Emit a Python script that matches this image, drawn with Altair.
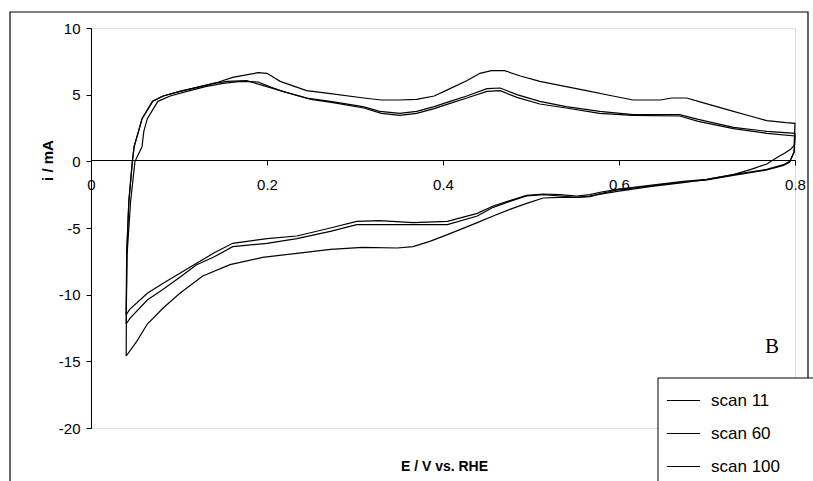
import altair as alt
import pandas as pd

# Cyclic voltammograms: anodic sweep (0.04 -> 0.8 V) followed by cathodic sweep (0.8 -> 0.04 V)
scan_names = ["scan 11", "scan 60", "scan 100"]

# scan 11
s11_anodic_E = [0.040, 0.041, 0.045, 0.050, 0.058, 0.060, 0.064, 0.076, 0.090, 0.109,
                0.130, 0.150, 0.170, 0.190, 0.205, 0.220, 0.250, 0.275, 0.310, 0.330,
                0.351, 0.370, 0.390, 0.408, 0.427, 0.450, 0.465, 0.484, 0.510, 0.540,
                0.578, 0.616, 0.669, 0.690, 0.730, 0.768, 0.800]
s11_anodic_i = [-11.5, -7.0, -3.0, 0.0, 1.1, 2.25, 3.2, 4.5, 4.9, 5.25,
                5.6, 5.85, 6.0, 5.95, 5.55, 5.2, 4.65, 4.4, 4.0, 3.6,
                3.45, 3.6, 3.95, 4.35, 4.75, 5.25, 5.3, 4.8, 4.3, 4.0,
                3.6, 3.45, 3.4, 3.0, 2.45, 2.1, 1.9]
s11_cathodic_E = [0.799, 0.794, 0.787, 0.768, 0.730, 0.700, 0.673, 0.635, 0.598, 0.580,
                  0.567, 0.552, 0.533, 0.514, 0.495, 0.476, 0.457, 0.439, 0.405, 0.366,
                  0.328, 0.302, 0.272, 0.234, 0.200, 0.161, 0.139, 0.120, 0.101, 0.082,
                  0.064, 0.044, 0.040]
s11_cathodic_i = [0.7, 0.0, -0.25, -0.6, -1.0, -1.35, -1.5, -1.8, -2.1, -2.3,
                  -2.5, -2.6, -2.5, -2.45, -2.55, -2.95, -3.35, -3.9, -4.5, -4.6,
                  -4.45, -4.5, -5.0, -5.6, -5.8, -6.15, -6.9, -7.65, -8.4, -9.15,
                  -9.9, -11.1, -11.5]

# scan 60
s60_anodic_E = [0.040, 0.0405, 0.043, 0.047, 0.049, 0.054, 0.058, 0.070, 0.082, 0.101,
                0.124, 0.140, 0.155, 0.177, 0.200, 0.215, 0.245, 0.272, 0.309, 0.328,
                0.351, 0.370, 0.390, 0.408, 0.427, 0.450, 0.465, 0.484, 0.510, 0.540,
                0.578, 0.616, 0.669, 0.690, 0.730, 0.768, 0.800]
s60_anodic_i = [-12.2, -7.0, -3.0, 0.0, 1.1, 2.25, 3.2, 4.5, 4.9, 5.25,
                5.6, 5.85, 6.0, 6.05, 5.6, 5.3, 4.75, 4.5, 4.1, 3.75,
                3.6, 3.75, 4.1, 4.5, 4.9, 5.45, 5.5, 5.0, 4.5, 4.1,
                3.75, 3.5, 3.5, 3.15, 2.55, 2.25, 2.1]
s60_cathodic_E = [0.799, 0.794, 0.787, 0.768, 0.730, 0.700, 0.673, 0.635, 0.598, 0.580,
                  0.567, 0.552, 0.533, 0.514, 0.495, 0.476, 0.457, 0.439, 0.405, 0.366,
                  0.328, 0.302, 0.272, 0.234, 0.200, 0.161, 0.139, 0.120, 0.101, 0.082,
                  0.064, 0.044, 0.040]
s60_cathodic_i = [0.7, -0.05, -0.3, -0.65, -1.05, -1.4, -1.55, -1.85, -2.15, -2.4,
                  -2.65, -2.7, -2.6, -2.5, -2.6, -3.0, -3.45, -4.1, -4.75, -4.75,
                  -4.75, -4.75, -5.25, -5.8, -6.15, -6.4, -7.2, -7.75, -8.7, -9.6,
                  -10.4, -11.8, -12.2]

# scan 100
s100_anodic_E = [0.040, 0.0405, 0.043, 0.047, 0.049, 0.054, 0.058, 0.070, 0.082, 0.101,
                 0.124, 0.145, 0.161, 0.178, 0.190, 0.200, 0.215, 0.245, 0.270, 0.310,
                 0.330, 0.350, 0.370, 0.390, 0.408, 0.427, 0.442, 0.455, 0.470, 0.488,
                 0.510, 0.540, 0.563, 0.593, 0.616, 0.647, 0.660, 0.677, 0.690, 0.711,
                 0.730, 0.749, 0.768, 0.790, 0.800]
s100_anodic_i = [-14.6, -7.0, -3.0, 0.0, 1.1, 2.25, 3.2, 4.5, 4.9, 5.25,
                 5.6, 5.95, 6.3, 6.5, 6.65, 6.6, 6.0, 5.3, 5.1, 4.75,
                 4.6, 4.6, 4.65, 4.9, 5.45, 6.05, 6.6, 6.8, 6.8, 6.4,
                 6.0, 5.6, 5.3, 4.9, 4.6, 4.6, 4.75, 4.75, 4.5, 4.1,
                 3.75, 3.4, 3.05, 2.9, 2.85]
s100_cathodic_E = [0.799, 0.795, 0.788, 0.780, 0.768, 0.750, 0.730, 0.700, 0.673, 0.635,
                   0.598, 0.567, 0.552, 0.533, 0.514, 0.495, 0.476, 0.457, 0.439, 0.405,
                   0.385, 0.366, 0.348, 0.309, 0.272, 0.234, 0.195, 0.158, 0.127, 0.101,
                   0.082, 0.064, 0.052, 0.040]
s100_cathodic_i = [1.2, 0.9, 0.6, 0.3, -0.2, -0.6, -1.0, -1.35, -1.6, -1.9,
                   -2.25, -2.6, -2.7, -2.7, -2.75, -3.15, -3.6, -4.1, -4.6, -5.5,
                   -6.0, -6.4, -6.5, -6.45, -6.6, -6.9, -7.2, -7.75, -8.6, -9.9,
                   -11.0, -12.2, -13.5, -14.6]

x_ticks = [0, 0.2, 0.4, 0.6, 0.8]
y_ticks = [-20, -15, -10, -5, 0, 5, 10]

sweeps = [
    ("scan 11", s11_anodic_E, s11_anodic_i, s11_cathodic_E, s11_cathodic_i),
    ("scan 60", s60_anodic_E, s60_anodic_i, s60_cathodic_E, s60_cathodic_i),
    ("scan 100", s100_anodic_E, s100_anodic_i, s100_cathodic_E, s100_cathodic_i),
]
rows = []
for name, aE, ai, cE, ci in sweeps:
    loop = list(zip(aE, ai)) + list(zip(cE, ci))
    for k, (e, cur) in enumerate(loop):
        rows.append({"scan": name, "step": k, "E": e, "i": cur})
cv = pd.DataFrame(rows)

W, H = 704, 400
FONT = "Liberation Sans"

x_scale = alt.Scale(domain=[0, 0.8], nice=False, zero=False)
y_scale = alt.Scale(domain=[-20, 10], nice=False, zero=False)

x_axis = alt.Axis(
    values=x_ticks, labelExpr="'' + datum.value", offset=-268,
    tickSize=5, labelPadding=12, labelFontSize=15, labelFont=FONT,
    title="E / V vs. RHE", titleX=353, titleY=306, titleAlign="center",
    titleBaseline="middle", titleFontSize=14, titleFontWeight="bold", titleFont=FONT,
    grid=False, domainColor="black", tickColor="black", labelColor="black",
    titleColor="black", labelFlush=False, labelOverlap=False,
)
y_axis = alt.Axis(
    values=y_ticks, labelExpr="'' + datum.value",
    tickSize=5, labelPadding=6, labelFontSize=15, labelFont=FONT,
    title="i / mA", titleX=-44, titleY=132, titleAngle=270, titleAlign="center",
    titleBaseline="middle", titleFontSize=15, titleFontWeight="bold", titleFont=FONT,
    grid=False, domainColor="black", tickColor="black", labelColor="black",
    titleColor="black", labelFlush=False, labelOverlap=False,
)

one = pd.DataFrame({"k": [0]})

# outer chart-area border
frame = alt.Chart(one).mark_rect(fill=None, stroke="black", strokeWidth=1.2).encode(
    x=alt.value(-81), x2=alt.value(717), y=alt.value(-16), y2=alt.value(480)
)

# legend box
legend_box = alt.Chart(one).mark_rect(fill="white", stroke="black", strokeWidth=1).encode(
    x=alt.value(567), x2=alt.value(740), y=alt.value(350), y2=alt.value(480)
)

lines = alt.Chart(cv).mark_line(strokeWidth=1.2).encode(
    x=alt.X("E:Q", scale=x_scale, axis=x_axis),
    y=alt.Y("i:Q", scale=y_scale, axis=y_axis),
    color=alt.Color(
        "scan:N",
        scale=alt.Scale(domain=scan_names, range=["black", "black", "black"]),
        legend=alt.Legend(
            title=None, orient="none", legendX=567, legendY=347,
            symbolType="stroke", symbolSize=1100, symbolStrokeWidth=1.2,
            labelFont=FONT, labelFontSize=17, labelColor="black",
            labelOffset=10, rowPadding=7, padding=8,
        ),
    ),
    order="step:Q",
    detail="scan:N",
)

panel_label = pd.DataFrame({"E": [0.774], "i": [-13.9], "t": ["B"]})
label_b = alt.Chart(panel_label).mark_text(
    font="Liberation Serif", fontSize=21, color="black"
).encode(x="E:Q", y="i:Q", text="t:N")

chart = alt.layer(frame, legend_box, lines, label_b).properties(
    width=W, height=H,
    autosize=alt.AutoSizeParams(type="none"),
    padding={"left": 91, "top": 28, "right": 18, "bottom": 53},
).configure_view(stroke=None).configure(background="white")

chart.save("out.html", embed_options={"renderer": "svg", "actions": False})
